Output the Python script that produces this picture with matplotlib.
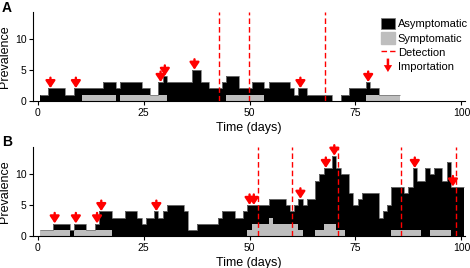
import numpy as np
import matplotlib
matplotlib.use("Agg")
import matplotlib.pyplot as plt
import matplotlib.patches as mpatches
from matplotlib.lines import Line2D
from matplotlib.legend_handler import HandlerPatch

plt.rcParams['font.family'] = ['Liberation Sans', 'DejaVu Sans']

# panel A : total prevalence and symptomatic per day (days 1..85)
total_a = [1, 1, 2, 2, 2, 2, 1, 1, 2, 2, 2, 2, 2, 2, 2, 3, 3, 3, 2, 3,
           3, 3, 3, 3, 2, 2, 1, 1, 3, 4, 3, 3, 3, 3, 3, 3, 5, 5, 3, 3,
           2, 2, 2, 3, 4, 4, 4, 2, 2, 2, 3, 3, 3, 2, 3, 3, 3, 3, 3, 2,
           1, 2, 2, 1, 1, 1, 1, 1, 1, 0, 0, 1, 1, 2, 2, 2, 2, 3, 2, 2,
           1, 1, 1, 1, 1]
sympt_a = [0]*10 + [1]*8 + [0] + [1]*11 + [0]*14 + [1]*9 + [0]*24 + [1]*8
detect_a = [42.85, 49.8, 67.9]
import_a = [3, 9, 29, 30, 37, 62, 78]

# panel B : days 1..100
total_b = [1, 1, 1, 2, 2, 2, 2, 1, 2, 2, 2, 1, 1, 2, 4, 4, 4, 3, 3, 3,
           4, 4, 4, 3, 2, 3, 3, 4, 3, 4, 5, 5, 5, 5, 4, 1, 1, 2, 2, 2,
           2, 2, 3, 4, 4, 4, 3, 3, 4, 5, 5, 5, 5, 5, 6, 6, 6, 6, 5, 4,
           5, 6, 5, 6, 6, 9, 10, 11, 11, 13, 11, 10, 10, 7, 5, 6, 7, 7, 7, 7,
           3, 4, 5, 8, 8, 8, 7, 8, 11, 9, 9, 11, 10, 11, 11, 9, 12, 8, 8, 8]
sympt_b = ([1]*7 + [0] + [1]*9 + [0]*32 + [1, 2, 2, 2, 2, 3, 2, 2, 2, 2, 2, 2, 1]
           + [0]*3 + [1, 1, 2, 2, 2, 1, 1] + [0]*11 + [1]*7 + [0]*2 + [1]*5 + [0]*3)
detect_b = [51.9, 59.9, 70.8, 85.8, 98.8]
import_b = [4, 9, 14, 15, 28, 50, 51, 62, 68, 70, 89, 98]


class ArrowHandler(HandlerPatch):
    def create_artists(self, legend, orig_handle, xdescent, ydescent,
                       width, height, fontsize, trans):
        cx = -xdescent + width / 2
        p = mpatches.FancyArrow(cx, -ydescent + height + 1.5, 0, -height - 1.5,
                                width=1.8, head_width=6, head_length=5,
                                length_includes_head=True, color='red', lw=0)
        p.set_transform(trans)
        return [p]


def panel(ax, total, sympt, detect, imports):
    total = np.array(total)
    sympt = np.array(sympt)
    edges = np.arange(0.5, len(total) + 1.5)
    ax.stairs(total, edges, baseline=sympt, fill=True, color='black', lw=0)
    ax.stairs(sympt, edges, baseline=0, fill=True, color='#bebebe', lw=0)
    ax.stairs(total, edges, baseline=None, color='#7a7a7a', lw=0.6)
    for d in detect:
        ax.axvline(d, color='red', ls=(0, (4, 2.2)), lw=1, zorder=4)
    for d in imports:
        y = total[d - 1]
        ax.annotate('', xy=(d, y + 0.05), xytext=(d, y + 1.75),
                    arrowprops=dict(arrowstyle='-|>,head_width=0.28,head_length=0.42',
                                    color='red', lw=1.7, shrinkA=0, shrinkB=0),
                    zorder=5)
    ax.set_xlim(-1.04, 100.8)
    ax.set_ylim(0, 14.5)
    ax.set_xticks([0, 25, 50, 75, 100])
    ax.set_yticks([0, 5, 10])
    for s in ['top', 'right']:
        ax.spines[s].set_visible(False)
    for s in ['left', 'bottom']:
        ax.spines[s].set_linewidth(0.8)
    ax.tick_params(length=3, width=0.8, labelsize=7.5, pad=2)
    ax.set_xlabel('Time (days)', fontsize=9, labelpad=3)
    ax.set_ylabel('Prevalence', fontsize=9, labelpad=3)


fig = plt.figure(figsize=(4.7, 2.68), dpi=100)
axA = fig.add_axes([0.0709, 0.6243, 0.918, 0.332])
axB = fig.add_axes([0.0709, 0.1194, 0.918, 0.333])
panel(axA, total_a, sympt_a, detect_a, import_a)
panel(axB, total_b, sympt_b, detect_b, import_b)

fig.text(0.004, 0.998, 'A', fontsize=10, weight='bold', va='top')
fig.text(0.004, 0.497, 'B', fontsize=10, weight='bold', va='top')

handles = [mpatches.Patch(facecolor='black', edgecolor='#7a7a7a', lw=0.6),
           mpatches.Patch(facecolor='#bebebe', edgecolor='#bebebe'),
           Line2D([], [], color='red', ls=(0, (4, 2.2)), lw=1),
           mpatches.FancyArrow(0, 0, 0, 1)]
labels = ['Asymptomatic', 'Symptomatic', 'Detection', 'Importation']
fig.legend(handles, labels, loc='upper left', bbox_to_anchor=(381/470, 1 - 18/268),
           frameon=False, fontsize=8, handlelength=1.25, handleheight=1.2,
           labelspacing=0.25, handletextpad=0.25, borderpad=0, borderaxespad=0,
           handler_map={mpatches.FancyArrow: ArrowHandler()})

fig.savefig('out.png', dpi=100)
